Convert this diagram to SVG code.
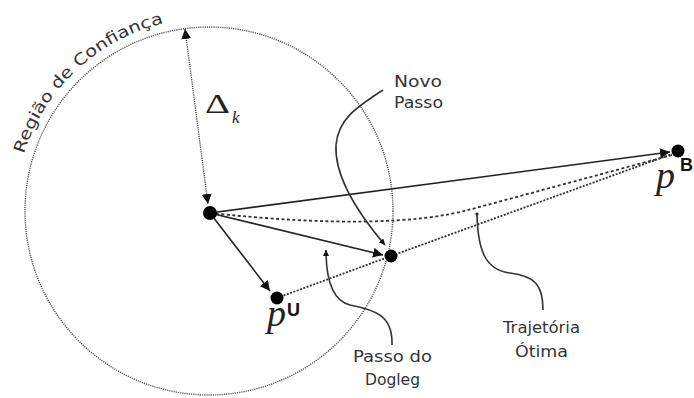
<svg xmlns="http://www.w3.org/2000/svg" width="694" height="398" viewBox="0 0 694 398">
<style>
.lbl{font-family:"DejaVu Sans","Liberation Sans",sans-serif;font-size:16px;fill:#333;}
.solid{fill:none;stroke:#222;stroke-width:1.6;}
.callout{fill:none;stroke:#333;stroke-width:1.6;}
.dash{fill:none;stroke:#333;stroke-width:1.8;stroke-dasharray:3 2.5;}
.dot{fill:none;stroke:#333;stroke-width:1.8;stroke-dasharray:2 1.5;}
.pt{fill:#000;}
.math{font-family:"Liberation Serif","DejaVu Serif",serif;fill:#222;}
.sup{font-family:"Liberation Sans","DejaVu Sans",sans-serif;font-weight:bold;fill:#111;}
</style>
<defs>
<marker id="ah" viewBox="0 0 10 10" refX="10" refY="5" markerWidth="10" markerHeight="10" markerUnits="userSpaceOnUse" orient="auto-start-reverse">
<path d="M0,0 L10,5 L0,10 z" fill="#111"/>
</marker>
<marker id="ahs" viewBox="0 0 10 10" refX="10" refY="5" markerWidth="6" markerHeight="6" markerUnits="userSpaceOnUse" orient="auto-start-reverse">
<path d="M0,0 L10,5 L0,10 z" fill="#111"/>
</marker>
<path id="arcText" d="M24,154 A193,193 0 0 1 175,21"/>
</defs>
<g id="region">
<circle cx="209" cy="211" r="184" fill="none" stroke="#555" stroke-width="1.4" stroke-dasharray="1.2 1"/>
<text class="lbl" font-size="18"><textPath href="#arcText" textLength="200" lengthAdjust="spacingAndGlyphs">Região de Confiança</textPath></text>
</g>
<g id="connectors">
<line x1="185" y1="29" x2="208" y2="204" stroke="#444" stroke-width="1.3" stroke-dasharray="1.2 1" marker-start="url(#ah)" marker-end="url(#ah)"/>
<path class="dash" d="M210,213 Q390,232 472,209 L672,155"/>
<path class="dot" d="M277,298 L391,256 L672,154"/>
<line class="solid" x1="210" y1="213" x2="670" y2="152" marker-end="url(#ah)"/>
<line class="solid" x1="210" y1="213" x2="383" y2="255" marker-end="url(#ah)"/>
<line class="solid" x1="210" y1="213" x2="270" y2="291" marker-end="url(#ah)"/>
<path class="callout" d="M383,90 C355,108 338,120 336,145 C334,180 362,218 385,245" marker-end="url(#ahs)"/>
<path class="callout" d="M392,345 C393,315 375,310 350,305 C330,300 326,275 326,250" marker-end="url(#ahs)"/>
<path class="callout" d="M477,215 C478,250 485,270 510,273 C535,276 543,285 543,310"/>
<circle cx="477" cy="214" r="1.6" fill="#222"/>
</g>
<g id="center"><circle class="pt" cx="210" cy="213" r="7"/></g>
<g id="dogleg"><circle class="pt" cx="391" cy="256" r="6.5"/></g>
<g id="pU">
<circle class="pt" cx="277" cy="298" r="6.5"/>
<text class="math" x="267" y="326" font-size="37" font-style="italic" textLength="19" lengthAdjust="spacingAndGlyphs">p</text>
<text class="sup" x="287" y="316" font-size="18">U</text>
</g>
<g id="pB">
<circle class="pt" cx="678" cy="151" r="6.5"/>
<text class="math" x="656" y="188" font-size="37" font-style="italic" textLength="19" lengthAdjust="spacingAndGlyphs">p</text>
<text class="sup" x="680" y="171" font-size="18">B</text>
</g>
<g id="delta">
<text class="math" x="205" y="113" font-size="27" textLength="25" lengthAdjust="spacingAndGlyphs">Δ</text>
<text class="math" x="232" y="123" font-size="17" font-style="italic">k</text>
</g>
<g id="novo">
<text class="lbl" x="394" y="87" textLength="48" lengthAdjust="spacingAndGlyphs">Novo</text>
<text class="lbl" x="394" y="108" textLength="49" lengthAdjust="spacingAndGlyphs">Passo</text>
</g>
<g id="passo-dogleg">
<text class="lbl" x="353" y="362" textLength="79" lengthAdjust="spacingAndGlyphs">Passo do</text>
<text class="lbl" x="365" y="385" textLength="55" lengthAdjust="spacingAndGlyphs">Dogleg</text>
</g>
<g id="trajetoria">
<text class="lbl" x="503" y="333" textLength="77" lengthAdjust="spacingAndGlyphs">Trajetória</text>
<text class="lbl" x="515" y="357" textLength="53" lengthAdjust="spacingAndGlyphs">Ótima</text>
</g>
</svg>
